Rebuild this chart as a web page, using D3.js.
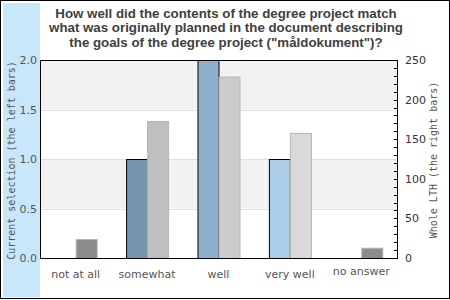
<!DOCTYPE html>
<html>
<head>
<meta charset="utf-8">
<script src="https://cdn.jsdelivr.net/npm/d3@7"></script>
<style>
  body{margin:0;background:#fff;}
  svg text{font-family:"DejaVu Sans",sans-serif;}
</style>
</head>
<body>
<svg id="chart" width="450" height="300"></svg>
<script>
// data
const categories = ["not at all","somewhat","well","very well","no answer"];
const selection = [0, 1, 2, 1, 0];          // left bars, left axis
const wholeLTH = [24, 173, 229, 158, 13];    // right bars, right axis
const leftTicks = [0, 0.5, 1.0, 1.5, 2.0];
const rightTicks = [0, 50, 100, 150, 200, 250];
const titleLines = [
  "How well did the contents of the degree project match",
  "what was originally planned in the document describing",
  "the goals of the degree project (\"måldokument\")?"
];
const leftColors = ["#5f87a8","#7596b0","#8fb0cc","#abcde8","#8c8c8c"];
const rightColors = ["#8c8c8c","#bfbfbf","#cccccc","#d9d9d9","#8c8c8c"];

const W = 450, H = 300;
const m = { left:40, right:397, top:60, bottom:258 };
const svg = d3.select("#chart");

// frame + side strip
svg.append("rect").attr("x",0.5).attr("y",0.5).attr("width",W-1).attr("height",H-2)
  .attr("fill","#fff").attr("stroke","#000");
svg.append("rect").attr("x",3).attr("y",3).attr("width",37).attr("height",H-6)
  .attr("fill","#c8e7fb");

const x = d3.scaleBand().domain(categories).range([m.left, m.right]);
const yL = d3.scaleLinear().domain([0,2]).range([m.bottom, m.top]);
const yR = d3.scaleLinear().domain([0,250]).range([m.bottom, m.top]);

// bands + grid
const g = svg.append("g");
[[1.5,2],[0.5,1]].forEach(([a,b])=>{
  g.append("rect").attr("x",m.left).attr("width",m.right-m.left)
    .attr("y",yL(b)).attr("height",yL(a)-yL(b)).attr("fill","#f2f2f2");
});
g.selectAll("line.grid").data([0.5,1,1.5]).enter().append("line")
  .attr("x1",m.left).attr("x2",m.right)
  .attr("y1",d=>Math.round(yL(d))+0.5).attr("y2",d=>Math.round(yL(d))+0.5)
  .attr("stroke","#e0e0e0");

// bars
const bw = 21;
categories.forEach((c,i)=>{
  const cx = x(c) + x.bandwidth()/2;
  if (selection[i] > 0){
    g.append("rect").attr("x",cx-bw+0.5).attr("y",yL(selection[i])+0.5)
      .attr("width",bw).attr("height",yL(0)-yL(selection[i]))
      .attr("fill",leftColors[i]).attr("stroke","#000").attr("stroke-width",1);
  }
  if (wholeLTH[i] > 0){
    g.append("rect").attr("x",cx+0.5).attr("y",yR(wholeLTH[i])+0.5)
      .attr("width",bw).attr("height",yR(0)-yR(wholeLTH[i]))
      .attr("fill",rightColors[i]).attr("stroke","#b4b4b4").attr("stroke-width",1);
  }
});

// frame of plot
g.append("line").attr("x1",m.left+0.5).attr("x2",m.left+0.5).attr("y1",m.top).attr("y2",m.bottom+1).attr("stroke","#000");
g.append("line").attr("x1",m.left).attr("x2",m.right+1).attr("y1",m.top+0.5).attr("y2",m.top+0.5).attr("stroke","#000");
g.append("line").attr("x1",m.left).attr("x2",m.right+1).attr("y1",m.bottom+0.5).attr("y2",m.bottom+0.5).attr("stroke","#000");
g.append("line").attr("x1",m.right+0.5).attr("x2",m.right+0.5).attr("y1",m.top).attr("y2",m.bottom+1).attr("stroke","#000");

// right minor ticks
g.selectAll("line.rt").data(d3.range(0,251,10)).enter().append("line")
  .attr("x1",m.right-3).attr("x2",m.right)
  .attr("y1",d=>Math.round(yR(d))+0.5).attr("y2",d=>Math.round(yR(d))+0.5)
  .attr("stroke","#000");

// tick labels
svg.selectAll("text.lt").data(leftTicks).enter().append("text")
  .attr("x",37).attr("y",d=>yL(d)+4).attr("text-anchor","end")
  .attr("font-size",11).attr("fill","#555").text(d=>d3.format(".1f")(d));
svg.selectAll("text.rtl").data(rightTicks).enter().append("text")
  .attr("x",405).attr("y",d=>yR(d)+4).attr("text-anchor","start")
  .attr("font-size",11).attr("fill","#333").text(d=>d);

// category labels
svg.selectAll("text.cat").data(categories).enter().append("text")
  .attr("x",d=>x(d)+x.bandwidth()/2).attr("y",(d,i)=> i===4 ? 275 : 278)
  .attr("text-anchor","middle").attr("font-size",11).attr("fill","#555").text(d=>d);

// axis titles
svg.append("text").attr("transform","translate(14.5,160.5) rotate(-90)")
  .attr("text-anchor","middle").style("font-family","'DejaVu Sans Mono',monospace")
  .attr("font-size",10).attr("fill","#555").text("Current selection (the left bars)");
svg.append("text").attr("transform","translate(437,160) rotate(-90)")
  .attr("text-anchor","middle").style("font-family","'DejaVu Sans Mono',monospace")
  .attr("font-size",10).attr("fill","#555").text("Whole LTH (the right bars)");

// title
svg.selectAll("text.title").data(titleLines).enter().append("text")
  .attr("x",226).attr("y",(d,i)=>17.5+i*14.5).attr("text-anchor","middle")
  .style("font-family","'Liberation Sans',Arial,sans-serif").attr("font-weight","bold")
  .attr("font-size",13.3).attr("fill","#404040").text(d=>d);
</script>
</body>
</html>
